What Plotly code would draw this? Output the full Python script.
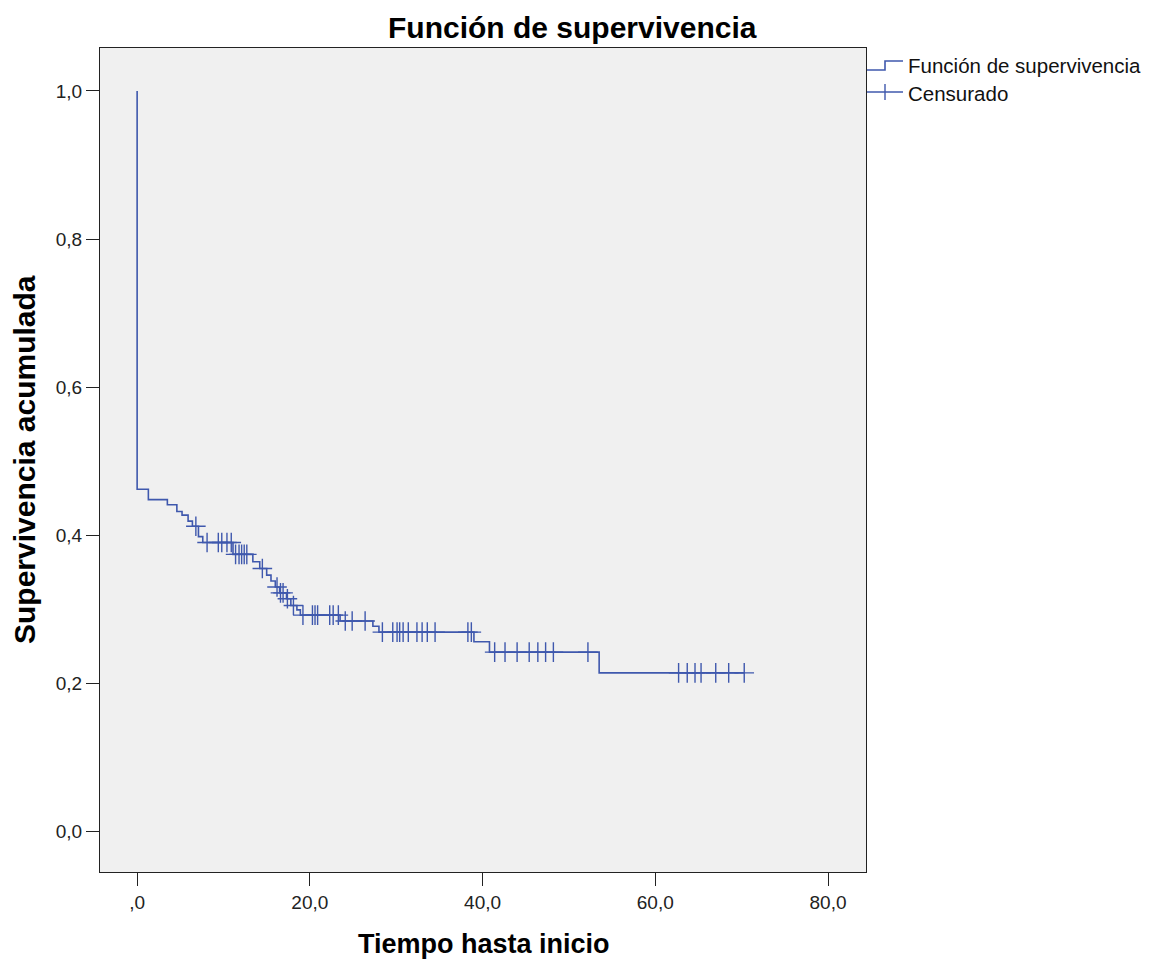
import numpy as np
import plotly.graph_objects as go

# Kaplan-Meier step data (time of event, survival after the event)
event_times = [0.0, 1.3, 3.5, 4.6, 5.2, 5.9, 6.4, 7.1, 7.6, 11.1, 13.4, 14.2, 15.0,
               15.5, 16.0, 16.5, 17.3, 17.8, 18.5, 18.9, 23.5, 27.3, 28.0, 39.0,
               40.8, 53.5]
surv_after = [0.462, 0.448, 0.441, 0.432, 0.427, 0.419, 0.412, 0.398, 0.390, 0.374,
              0.364, 0.355, 0.346, 0.338, 0.330, 0.322, 0.314, 0.305, 0.299, 0.292,
              0.284, 0.277, 0.269, 0.256, 0.242, 0.214]
censor_times = [6.8, 8.1, 9.4, 9.8, 10.4, 10.9, 11.4, 11.8, 12.1, 12.4, 12.7, 14.5,
                16.2, 16.6, 16.9, 17.4, 18.1, 19.2, 20.3, 20.6, 20.9, 22.3, 22.7,
                23.3, 24.1, 24.9, 26.4, 28.4, 29.6, 30.1, 30.4, 30.8, 31.4, 32.4,
                33.0, 33.6, 34.5, 38.3, 38.7, 41.4, 42.6, 44.0, 45.4, 46.4, 47.3,
                48.2, 52.2, 62.7, 63.7, 64.6, 65.3, 67.0, 68.5, 70.3]
x_ticks = [0, 20, 40, 60, 80]
x_ticktext = [",0", "20,0", "40,0", "60,0", "80,0"]
y_ticks = [0.0, 0.2, 0.4, 0.6, 0.8, 1.0]
y_ticktext = ["0,0", "0,2", "0,4", "0,6", "0,8", "1,0"]

BLUE = "#3f58ad"
FONT = "Liberation Sans, Arial, sans-serif"

ev = np.array(event_times)
sv = np.array(surv_after)
ct = np.array(censor_times)
cy = sv[np.searchsorted(ev, ct, side="right") - 1]

step_x = [0.0] + list(ev) + [ct.max()]
step_y = [1.0] + list(sv) + [sv[-1]]

fig = go.Figure()
fig.add_trace(go.Scatter(x=step_x, y=step_y, mode="lines", line_shape="hv",
                         line=dict(color=BLUE, width=1.6), showlegend=False,
                         hoverinfo="skip"))
fig.add_trace(go.Scatter(x=ct, y=cy, mode="markers",
                         marker=dict(symbol="cross-thin", size=14,
                                     line=dict(color=BLUE, width=1.4)),
                         showlegend=False))

OFF = 8  # default page margin of the browser body
W, H = 1153 - OFF, 964 - OFF
L, T = 100 - OFF, 48 - OFF
R = W - (866 - OFF)
B = H - (872 - OFF)
pw, ph = W - L - R, H - T - B


def px(xp):
    return (xp - OFF - L) / pw


def py(yp):
    return (H - B - (yp - OFF)) / ph


shapes = [
    dict(type="path", xref="paper", yref="paper",
         path=f"M {px(867)} {py(70)} L {px(885)} {py(70)} L {px(885)} {py(61)} L {px(903)} {py(61)}",
         line=dict(color=BLUE, width=1.6)),
    dict(type="line", xref="paper", yref="paper", x0=px(867), x1=px(903), y0=py(92), y1=py(92),
         line=dict(color=BLUE, width=1.4)),
    dict(type="line", xref="paper", yref="paper", x0=px(885), x1=px(885), y0=py(84), y1=py(100),
         line=dict(color=BLUE, width=1.4)),
]

annotations = [
    dict(text="<b>Función de supervivencia</b>", xref="paper", yref="paper",
         x=px(572), y=py(27), xanchor="center", yanchor="middle", showarrow=False,
         font=dict(size=30, color="black", family=FONT)),
    dict(text="<b>Tiempo hasta inicio</b>", xref="paper", yref="paper",
         x=px(484), y=py(944), xanchor="center", yanchor="middle", showarrow=False,
         font=dict(size=27, color="black", family=FONT)),
    dict(text="<b>Supervivencia acumulada</b>", xref="paper", yref="paper",
         x=px(24), y=py(460), xanchor="center", yanchor="middle", showarrow=False,
         textangle=-90, font=dict(size=30, color="black", family=FONT)),
    dict(text="Función de supervivencia", xref="paper", yref="paper",
         x=px(906), y=py(66), xanchor="left", yanchor="middle", showarrow=False,
         font=dict(size=20.5, color="#111111", family=FONT)),
    dict(text="Censurado", xref="paper", yref="paper",
         x=px(906), y=py(94), xanchor="left", yanchor="middle", showarrow=False,
         font=dict(size=20.5, color="#111111", family=FONT)),
]

axis_common = dict(showgrid=False, zeroline=False, showline=True, mirror=True,
                   linecolor="#222222", linewidth=1.2, ticks="outside", ticklen=13,
                   tickcolor="#222222", tickwidth=1.2,
                   tickfont=dict(size=19, color="#222222", family=FONT))

fig.update_layout(
    width=W, height=H,
    margin=dict(l=L, r=R, t=T, b=B),
    paper_bgcolor="white", plot_bgcolor="#f0f0f0",
    xaxis=dict(range=[-4.3, 84.4], tickvals=x_ticks, ticktext=x_ticktext, **axis_common),
    yaxis=dict(range=[-0.055, 1.058], tickvals=y_ticks, ticktext=y_ticktext, **axis_common),
    shapes=shapes, annotations=annotations, showlegend=False,
)

fig.write_html("out.html")
